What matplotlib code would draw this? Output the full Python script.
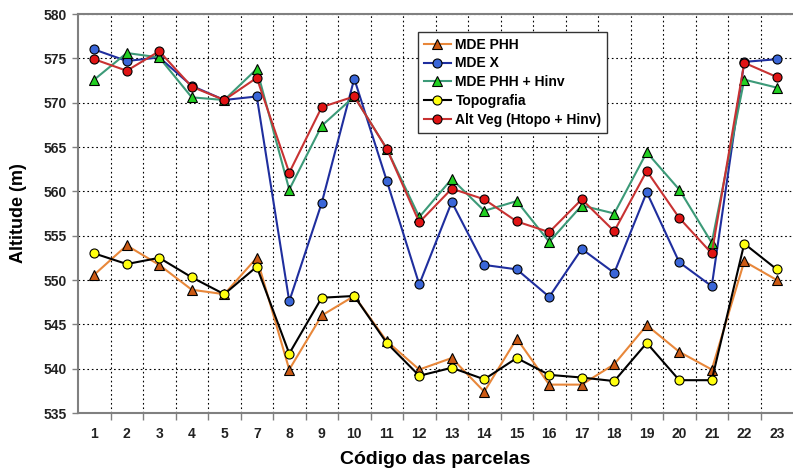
import matplotlib

matplotlib.use("Agg")
import matplotlib.pyplot as plt
from matplotlib.ticker import FixedLocator, MultipleLocator

plt.rcParams["font.family"] = ["Liberation Sans", "DejaVu Sans"]

parcelas = ["1", "2", "3", "4", "5", "7", "8", "9", "10", "11", "12",
            "13", "14", "15", "16", "17", "18", "19", "20", "21", "22", "23"]

mde_phh = [550.6, 553.9, 551.7, 548.9, 548.4, 552.5, 539.9, 546.0, 548.2,
           543.1, 539.9, 541.2, 537.4, 543.4, 538.2, 538.2, 540.5, 544.9,
           541.9, 539.9, 552.1, 550.0]
mde_x = [576.0, 574.7, 575.1, 571.9, 570.3, 570.7, 547.6, 558.7, 572.7,
         561.2, 549.5, 558.8, 551.7, 551.2, 548.1, 553.5, 550.8, 559.9,
         552.0, 549.3, 574.6, 574.9]
mde_phh_hinv = [572.6, 575.6, 575.1, 570.6, 570.3, 573.8, 560.2, 567.4, 570.7,
                564.8, 557.1, 561.4, 557.8, 558.9, 554.3, 558.4, 557.5, 564.4,
                560.2, 554.2, 572.6, 571.7]
topografia = [553.0, 551.8, 552.5, 550.3, 548.4, 551.5, 541.7, 548.0, 548.2,
              542.9, 539.2, 540.1, 538.8, 541.2, 539.3, 539.0, 538.6, 542.9,
              538.7, 538.7, 554.1, 551.2]
alt_veg = [574.9, 573.6, 575.8, 571.8, 570.3, 572.8, 562.1, 569.5, 570.7,
           564.8, 556.5, 560.3, 559.1, 556.6, 555.4, 559.1, 555.5, 562.3,
           557.0, 553.0, 574.5, 572.9]

x = list(range(len(parcelas)))

fig = plt.figure(figsize=(7.93, 4.69), dpi=100)
ax = fig.add_axes([78 / 793, 1 - 413 / 469, 1 - 78 / 793, (413 - 14) / 469])

mk = dict(markersize=6.5, markeredgecolor="black", markeredgewidth=0.8)
ax.plot(x, mde_phh, "-^", color="#E8873A", markerfacecolor="#CC5A14",
        lw=1.5, label="MDE PHH", **mk)
ax.plot(x, mde_x, "-o", color="#1F2E9E", markerfacecolor="#3A66D8",
        lw=1.5, label="MDE X", **mk)
ax.plot(x, mde_phh_hinv, "-^", color="#3C9A78", markerfacecolor="#22D022",
        lw=1.5, label="MDE PHH + Hinv", **mk)
ax.plot(x, topografia, "-o", color="black", markerfacecolor="#FFFF10",
        lw=1.5, label="Topografia", **mk)
ax.plot(x, alt_veg, "-o", color="#C83232", markerfacecolor="#E01414",
        lw=1.5, label="Alt Veg (Htopo + Hinv)", **mk)

ax.set_xlim(-0.5, len(parcelas) - 0.5)
ax.set_ylim(535, 580)
ax.set_xticks(x)
ax.set_xticklabels(parcelas)
ax.xaxis.set_minor_locator(FixedLocator([i + 0.5 for i in x[:-1]]))
ax.yaxis.set_major_locator(MultipleLocator(5))
ax.tick_params(axis="x", which="major", length=0, pad=10)
ax.tick_params(axis="x", which="minor", length=5, width=1, color="#808080",
               direction="out")
ax.tick_params(axis="y", length=4, width=1, color="#808080", pad=4)
for lab in ax.get_xticklabels() + ax.get_yticklabels():
    lab.set_fontweight("bold")
    lab.set_fontsize(10)
    lab.set_color("#222222")

grid = dict(color="black", linestyle=(0, (1.5, 2.5)), linewidth=0.8)
ax.grid(axis="x", which="minor", **grid)
ax.grid(axis="y", which="major", **grid)
ax.set_axisbelow(True)

for side in ("left", "bottom", "top"):
    ax.spines[side].set_color("#808080")
    ax.spines[side].set_linewidth(1.5)
ax.spines["right"].set_visible(False)

ax.set_ylabel("Altitude (m)", fontsize=13, fontweight="bold", labelpad=12)
ax.set_xlabel("Código das parcelas", fontsize=14, fontweight="bold",
              labelpad=7)

leg = ax.legend(loc="upper left", bbox_to_anchor=(0.4755, 0.955),
                borderaxespad=0,
                prop={"weight": "bold", "size": 10}, fancybox=False,
                framealpha=1, edgecolor="#333333", handlelength=2.0,
                handletextpad=0.3, labelspacing=0.35, borderpad=0.4)
leg.get_frame().set_linewidth(1.0)

fig.savefig("out.png", dpi=100)
